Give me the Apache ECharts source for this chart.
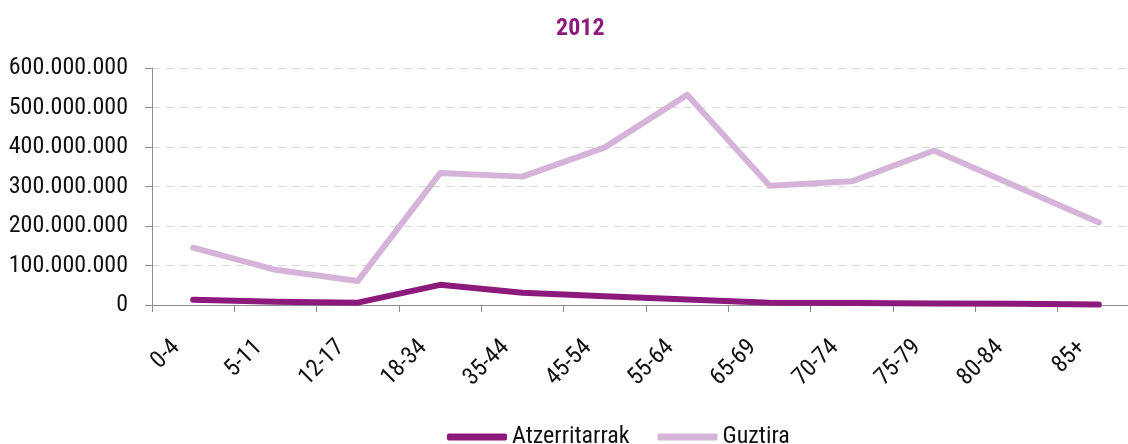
<!DOCTYPE html>
<html>
<head>
<meta charset="utf-8">
<script src="https://cdn.jsdelivr.net/npm/echarts@6/dist/echarts.min.js"></script>
<style>
html,body{margin:0;padding:0;background:#fff;}
#chart{width:1128px;height:444px;}
</style>
</head>
<body>
<div id="chart"></div>
<script>
var categories = ['0-4','5-11','12-17','18-34','35-44','45-54','55-64','65-69','70-74','75-79','80-84','85+'];
var atzerritarrak = [13000000, 8000000, 6000000, 51000000, 31000000, 22000000, 14000000, 6000000, 5000000, 4000000, 3000000, 1000000];
var guztira = [145000000, 89000000, 61000000, 334000000, 325000000, 399000000, 532000000, 302000000, 313000000, 391000000, 300000000, 209000000];
var yTicks = [0, 100000000, 200000000, 300000000, 400000000, 500000000, 600000000];

var FONT = "'Liberation Sans Narrow', 'Roboto Condensed', 'DejaVu Sans Condensed', sans-serif";
var DARK = '#8C1A7C';
var LIGHT = '#D6B4D9';

function fmt(v){
  return String(Math.round(v)).replace(/\B(?=(\d{3})+(?!\d))/g, '.');
}

var chart = echarts.init(document.getElementById('chart'), null, {renderer:'canvas'});
chart.setOption({
  animation: false,
  backgroundColor: '#fff',
  title: {
    text: '2012',
    left: 551,
    top: 12,
    textStyle: {fontFamily: FONT, fontSize: 24, fontWeight: 'bold', color: DARK}
  },
  legend: {
    bottom: -10,
    left: 442,
    itemWidth: 60,
    itemHeight: 7,
    itemGap: 28,
    icon: 'roundRect',
    textStyle: {fontFamily: FONT, fontSize: 24, color: '#111'},
    data: ['Atzerritarrak', 'Guztira']
  },
  grid: {left: 152, width: 988, top: 68, bottom: 139, containLabel: false, outerBoundsMode: 'none'},
  xAxis: {
    type: 'category',
    data: categories,
    boundaryGap: true,
    axisLine: {lineStyle: {color: '#8c8c8c', width: 1}},
    axisTick: {show: true, length: 7, lineStyle: {color: '#8c8c8c'}},
    axisLabel: {rotate: 45, fontFamily: FONT, fontSize: 24, color: '#111', margin: 22, padding: [0, 24, 0, 0], interval: 0}
  },
  yAxis: {
    type: 'value',
    min: yTicks[0],
    max: yTicks[yTicks.length-1],
    interval: 100000000,
    axisLine: {show: true, lineStyle: {color: '#8c8c8c'}},
    axisTick: {show: true, length: 7, lineStyle: {color: '#8c8c8c'}},
    axisLabel: {fontFamily: FONT, fontSize: 24, color: '#111', margin: 24, formatter: fmt},
    splitLine: {show: true, lineStyle: {color: '#d9d9d9', type: [8, 6], width: 1}}
  },
  series: [
    {
      name: 'Guztira',
      type: 'line',
      data: guztira,
      symbol: 'none',
      z: 2,
      color: LIGHT,
      lineStyle: {width: 6, color: LIGHT, cap: 'round', join: 'round'}
    },
    {
      name: 'Atzerritarrak',
      type: 'line',
      data: atzerritarrak,
      symbol: 'none',
      z: 3,
      color: DARK,
      lineStyle: {width: 6, color: DARK, cap: 'round', join: 'round'}
    }
  ]
});
</script>
</body>
</html>
